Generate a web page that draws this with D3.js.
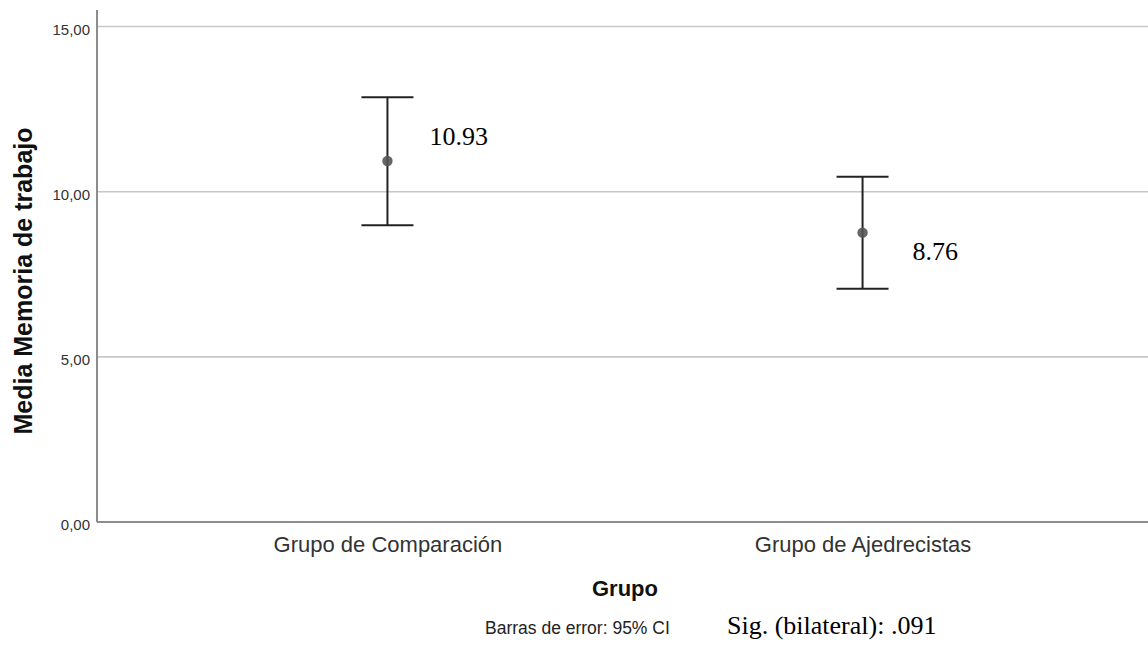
<!DOCTYPE html>
<html>
<head>
<meta charset="utf-8">
<script src="https://cdn.jsdelivr.net/npm/d3@7"></script>
<style>
  body { margin: 0; background: #fff; }
  svg { display: block; }
</style>
</head>
<body>
<svg id="chart"></svg>
<script>
// chart values
const groups = ["Grupo de Comparación", "Grupo de Ajedrecistas"]
const means = [10.93, 8.76]
const ciLow = [8.98, 7.06]
const ciHigh = [12.86, 10.45]
const yTicks = [0, 5, 10, 15]
const yTitle = "Media Memoria de trabajo"
const xTitle = "Grupo"
const footNote = "Barras de error: 95% CI"
const sigNote = "Sig. (bilateral): .091"

const width = 1148
const height = 646
const margin = {top: 10, right: 0, bottom: 124, left: 97}

// where each mean label sits relative to its point
const labelOffset = [[42, -16], [50, 27]]

const svg = d3.select("#chart")
    .attr("width", width)
    .attr("height", height)

const x = d3.scalePoint()
    .domain(groups)
    .range([margin.left + 3, width + 2])
    .padding(0.605)

const y = d3.scaleLinear()
    .domain([0, 15.5])
    .range([height - margin.bottom, margin.top])

const sans = "'Liberation Sans', Arial, sans-serif"
const serif = "'Liberation Serif', 'Times New Roman', serif"

// gridlines
svg.append("g")
    .selectAll("line")
    .data(yTicks.filter(d => d > 0))
    .enter()
    .append("line")
    .attr("x1", margin.left)
    .attr("x2", width - margin.right)
    .attr("y1", d => y(d))
    .attr("y2", d => y(d))
    .style("stroke", "#c8c8c8")
    .style("stroke-width", 1.6)

// y axis
const yAxis = d3.axisLeft(y)
    .tickValues(yTicks)
    .tickSize(0)
    .tickPadding(7)
    .tickFormat(d => d3.format(".2f")(d).replace(".", ","))

const gy = svg.append("g")
    .attr("transform", `translate(${margin.left},0)`)
    .call(yAxis)
gy.select(".domain").remove()
gy.selectAll("text")
    .attr("dy", "0.5em")
    .style("font-family", sans)
    .style("font-size", "15px")
    .style("fill", "#333")

svg.append("line")
    .attr("x1", margin.left).attr("x2", margin.left)
    .attr("y1", margin.top).attr("y2", y(0))
    .style("stroke", "#8c8c8c")
    .style("stroke-width", 2)

// x axis
const xAxis = d3.axisBottom(x).tickSize(0).tickPadding(14)
const gx = svg.append("g")
    .attr("transform", `translate(0,${y(0)})`)
    .call(xAxis)
gx.select(".domain").remove()
gx.selectAll("text")
    .style("font-family", sans)
    .style("font-size", "22px")
    .style("fill", "#333")

svg.append("line")
    .attr("x1", margin.left).attr("x2", width - margin.right)
    .attr("y1", y(0)).attr("y2", y(0))
    .style("stroke", "#8c8c8c")
    .style("stroke-width", 2)

// error bars
const capHalf = 26
const bars = svg.append("g")
    .selectAll("g")
    .data(groups)
    .enter()
    .append("g")

bars.append("line")
    .attr("x1", d => x(d)).attr("x2", d => x(d))
    .attr("y1", (d, i) => y(ciHigh[i]))
    .attr("y2", (d, i) => y(ciLow[i]))
    .style("stroke", "#222")
    .style("stroke-width", 2)

bars.append("line")
    .attr("x1", d => x(d) - capHalf).attr("x2", d => x(d) + capHalf)
    .attr("y1", (d, i) => y(ciHigh[i]))
    .attr("y2", (d, i) => y(ciHigh[i]))
    .style("stroke", "#222")
    .style("stroke-width", 2)

bars.append("line")
    .attr("x1", d => x(d) - capHalf).attr("x2", d => x(d) + capHalf)
    .attr("y1", (d, i) => y(ciLow[i]))
    .attr("y2", (d, i) => y(ciLow[i]))
    .style("stroke", "#222")
    .style("stroke-width", 2)

bars.append("circle")
    .attr("cx", d => x(d))
    .attr("cy", (d, i) => y(means[i]))
    .attr("r", 5.2)
    .style("fill", "#555")
    .style("opacity", 0.9)

bars.append("text")
    .attr("x", (d, i) => x(d) + labelOffset[i][0])
    .attr("y", (d, i) => y(means[i]) + labelOffset[i][1])
    .style("font-family", serif)
    .style("font-size", "26px")
    .style("fill", "#000")
    .text((d, i) => means[i].toFixed(2))

// titles
svg.append("text")
    .attr("transform", "translate(32,281) rotate(-90)")
    .style("text-anchor", "middle")
    .style("font-family", sans)
    .style("font-weight", "bold")
    .style("font-size", "25px")
    .style("fill", "#111")
    .text(yTitle)

svg.append("text")
    .attr("x", 625)
    .attr("y", 596)
    .style("text-anchor", "middle")
    .style("font-family", sans)
    .style("font-weight", "bold")
    .style("font-size", "22px")
    .style("fill", "#111")
    .text(xTitle)

svg.append("text")
    .attr("x", 485)
    .attr("y", 634)
    .style("font-family", sans)
    .style("font-size", "17.5px")
    .style("fill", "#222")
    .text(footNote)

svg.append("text")
    .attr("x", 727)
    .attr("y", 634)
    .style("font-family", serif)
    .style("font-size", "26px")
    .style("fill", "#000")
    .text(sigNote)
</script>
</body>
</html>
